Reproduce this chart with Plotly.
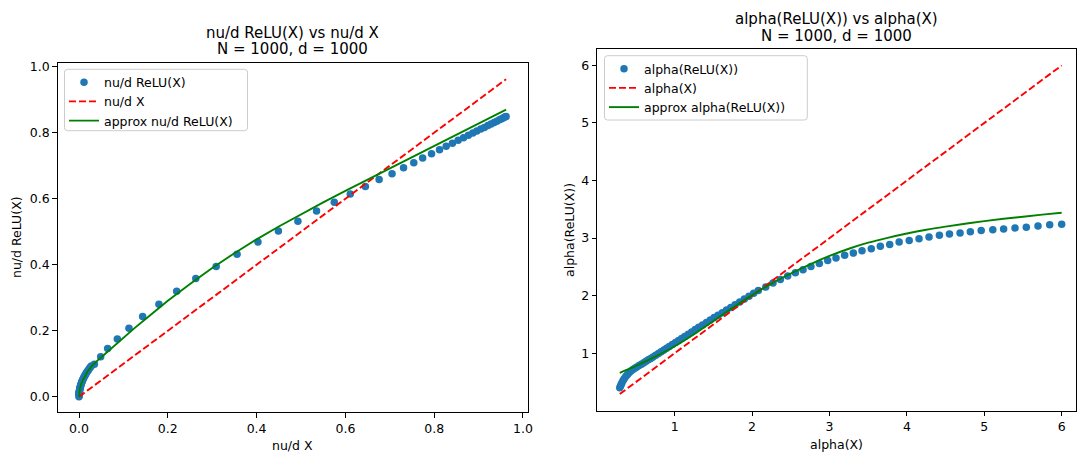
import plotly.graph_objects as go

# ---------------- left panel: nu/d ----------------
nud_x = [0.0, 0.0001, 0.0002, 0.0003, 0.0004, 0.0005, 0.0006, 0.0008, 0.001, 0.0012,
         0.0015, 0.0018, 0.0022, 0.0026, 0.003, 0.0035, 0.004, 0.0046, 0.0053, 0.006,
         0.0068, 0.0077, 0.0087, 0.0098, 0.011, 0.0123, 0.0137, 0.0152, 0.0168, 0.0186,
         0.0205, 0.0226, 0.025, 0.0276, 0.0345, 0.0488, 0.0645, 0.0863, 0.1125, 0.1433,
         0.180, 0.220, 0.263, 0.309, 0.356, 0.403, 0.449, 0.493, 0.535, 0.575,
         0.611, 0.645, 0.676, 0.705, 0.731, 0.754, 0.774, 0.794, 0.812, 0.827,
         0.841, 0.854, 0.866, 0.877, 0.887, 0.896, 0.905, 0.913, 0.921, 0.928,
         0.935, 0.941, 0.947, 0.952, 0.956, 0.960, 0.962]
nud_relu = [0.0, 0.003, 0.006, 0.010, 0.011, 0.0125, 0.0137, 0.0158, 0.0177, 0.0194,
            0.0217, 0.0238, 0.0263, 0.0286, 0.0307, 0.0331, 0.0354, 0.038, 0.0408, 0.0434,
            0.0462, 0.0491, 0.0522, 0.0554, 0.0587, 0.0621, 0.0655, 0.069, 0.0726, 0.0764,
            0.080, 0.0842, 0.0885, 0.093, 0.099, 0.121, 0.146, 0.175, 0.208, 0.243,
            0.280, 0.320, 0.358, 0.395, 0.432, 0.469, 0.502, 0.532, 0.563, 0.589,
            0.614, 0.637, 0.658, 0.676, 0.694, 0.709, 0.723, 0.736, 0.748, 0.759,
            0.768, 0.777, 0.785, 0.792, 0.799, 0.805, 0.811, 0.816, 0.822, 0.826,
            0.831, 0.835, 0.839, 0.842, 0.845, 0.848, 0.849]

approx_nud_x = [0.0, 0.0005, 0.002, 0.005, 0.01, 0.02, 0.03, 0.045, 0.06, 0.08,
                0.1, 0.125, 0.15, 0.175, 0.2, 0.25, 0.3, 0.35, 0.4, 0.45,
                0.5, 0.55, 0.6, 0.65, 0.7, 0.75, 0.8, 0.85, 0.9, 0.962]
approx_nud_y = [0.0, 0.012, 0.025, 0.039, 0.054, 0.078, 0.095, 0.114, 0.132, 0.156,
                0.180, 0.208, 0.236, 0.264, 0.291, 0.342, 0.390, 0.435, 0.477, 0.516,
                0.553, 0.589, 0.624, 0.658, 0.692, 0.726, 0.760, 0.794, 0.828, 0.870]

# ---------------- right panel: alpha ----------------
alpha_x = [0.29, 0.30, 0.31, 0.32, 0.335, 0.35, 0.37, 0.39, 0.41, 0.435,
           0.46, 0.485, 0.51, 0.54, 0.57, 0.60, 0.63, 0.66, 0.69, 0.72,
           0.755, 0.79, 0.825, 0.86, 0.895, 0.93, 0.97, 1.01, 1.05, 1.09,
           1.13, 1.175, 1.22, 1.265, 1.31, 1.36, 1.41, 1.46, 1.51, 1.56,
           1.615, 1.67, 1.725, 1.78, 1.84, 1.90, 1.96, 2.02, 2.08, 2.176,
           2.27, 2.365, 2.46, 2.559, 2.658, 2.76, 2.869, 2.977, 3.084, 3.196,
           3.308, 3.42, 3.54, 3.657, 3.778, 3.90, 4.03, 4.157, 4.286, 4.42,
           4.55, 4.687, 4.82, 4.96, 5.11, 5.25, 5.397, 5.543, 5.694, 5.845, 6.0]
alpha_relu = [0.40, 0.43, 0.46, 0.49, 0.53, 0.56, 0.60, 0.63, 0.66, 0.69,
              0.715, 0.74, 0.76, 0.785, 0.81, 0.835, 0.86, 0.885, 0.91, 0.935,
              0.965, 0.995, 1.025, 1.055, 1.085, 1.115, 1.15, 1.185, 1.22, 1.255,
              1.29, 1.33, 1.37, 1.41, 1.45, 1.49, 1.535, 1.575, 1.62, 1.66,
              1.705, 1.75, 1.795, 1.84, 1.89, 1.94, 1.99, 2.04, 2.09, 2.15,
              2.22, 2.28, 2.34, 2.40, 2.45, 2.505, 2.56, 2.609, 2.655, 2.70,
              2.74, 2.78, 2.817, 2.858, 2.89, 2.93, 2.96, 2.99, 3.02, 3.05,
              3.07, 3.089, 3.11, 3.13, 3.147, 3.16, 3.176, 3.19, 3.21, 3.234, 3.24]

approx_alpha_x = [0.29, 0.5, 0.75, 1.0, 1.25, 1.5, 1.75, 2.0, 2.25, 2.5,
                  2.75, 3.0, 3.25, 3.5, 3.75, 4.0, 4.25, 4.5, 4.75, 5.0,
                  5.25, 5.5, 5.75, 6.0]
approx_alpha_y = [0.66, 0.78, 0.94, 1.12, 1.33, 1.56, 1.79, 2.01, 2.21, 2.385,
                  2.545, 2.69, 2.815, 2.92, 3.005, 3.08, 3.145, 3.20, 3.25, 3.295,
                  3.335, 3.372, 3.407, 3.44]

left_ticks = [0.0, 0.2, 0.4, 0.6, 0.8, 1.0]
right_ticks = [1, 2, 3, 4, 5, 6]

W, H = 1078, 466
FONT = "DejaVu Sans"
BLUE, RED, GREEN = "#1f77b4", "#ff0000", "#008000"


def px(x):
    return x / W


def py(y):
    return 1 - y / H


def rounded_box(x0, y0, x1, y1, r=3):
    """Rounded rectangle path in paper coordinates from pixel corners."""
    X = lambda v: f"{px(v):.6f}"
    Y = lambda v: f"{py(v):.6f}"
    return (f"M {X(x0 + r)} {Y(y0)} L {X(x1 - r)} {Y(y0)} "
            f"Q {X(x1)} {Y(y0)} {X(x1)} {Y(y0 + r)} L {X(x1)} {Y(y1 - r)} "
            f"Q {X(x1)} {Y(y1)} {X(x1 - r)} {Y(y1)} L {X(x0 + r)} {Y(y1)} "
            f"Q {X(x0)} {Y(y1)} {X(x0)} {Y(y1 - r)} L {X(x0)} {Y(y0 + r)} "
            f"Q {X(x0)} {Y(y0)} {X(x0 + r)} {Y(y0)} Z")


fig = go.Figure()

# left panel traces
fig.add_trace(go.Scatter(x=nud_x, y=nud_relu, mode="markers", name="nu/d ReLU(X)",
                         marker=dict(color=BLUE, size=7.5, line=dict(width=0)),
                         xaxis="x", yaxis="y", legend="legend"))
fig.add_trace(go.Scatter(x=nud_x, y=nud_x, mode="lines", name="nu/d X",
                         line=dict(color=RED, width=1.9, dash="7px,3px"),
                         xaxis="x", yaxis="y", legend="legend"))
fig.add_trace(go.Scatter(x=approx_nud_x, y=approx_nud_y, mode="lines", name="approx nu/d ReLU(X)",
                         line=dict(color=GREEN, width=1.9),
                         xaxis="x", yaxis="y", legend="legend"))

# right panel traces
fig.add_trace(go.Scatter(x=alpha_x, y=alpha_relu, mode="markers", name="alpha(ReLU(X))",
                         marker=dict(color=BLUE, size=7.5, line=dict(width=0)),
                         xaxis="x2", yaxis="y2", legend="legend2"))
fig.add_trace(go.Scatter(x=alpha_x, y=alpha_x, mode="lines", name="alpha(X)",
                         line=dict(color=RED, width=1.9, dash="7px,3px"),
                         xaxis="x2", yaxis="y2", legend="legend2"))
fig.add_trace(go.Scatter(x=approx_alpha_x, y=approx_alpha_y, mode="lines", name="approx alpha(ReLU(X))",
                         line=dict(color=GREEN, width=1.9, shape="spline"),
                         xaxis="x2", yaxis="y2", legend="legend2"))

axis_common = dict(showline=True, mirror=True, linecolor="black", linewidth=1.1,
                   ticks="outside", ticklen=4.5, tickwidth=1.1, tickcolor="black",
                   showgrid=False, zeroline=False, automargin=False,
                   tickfont=dict(family=FONT, size=12.5, color="black"))

legend_common = dict(xanchor="left", yanchor="top", bgcolor="rgba(0,0,0,0)",
                     borderwidth=0, tracegroupgap=0,
                     font=dict(family=FONT, size=12.5, color="black"))

fig.update_layout(
    width=W, height=H,
    margin=dict(l=0, r=0, t=0, b=0, pad=0),
    paper_bgcolor="white", plot_bgcolor="white",
    font=dict(family=FONT, size=12.5, color="black"),
    xaxis=dict(domain=[px(57.7), px(527.7)], range=[-0.048, 1.0106], anchor="y",
               tickvals=left_ticks, ticktext=[f"{v:.1f}" for v in left_ticks], **axis_common),
    yaxis=dict(domain=[py(412), py(62.7)], range=[-0.046, 1.012], anchor="x",
               tickvals=left_ticks, ticktext=[f"{v:.1f}" for v in left_ticks], **axis_common),
    xaxis2=dict(domain=[px(597.3), px(1076)], range=[0.0, 6.185], anchor="y2",
                tickvals=right_ticks, ticktext=[str(v) for v in right_ticks], **axis_common),
    yaxis2=dict(domain=[py(410.5), py(49)], range=[0.0045, 6.2855], anchor="x2",
                tickvals=right_ticks, ticktext=[str(v) for v in right_ticks], **axis_common),
    legend=dict(x=px(64), y=py(67.5), **legend_common),
    legend2=dict(x=px(604), y=py(54), **legend_common),
    showlegend=True,
)

# legend frames (drawn above the data, beneath the legend entries)
fig.add_shape(type="path", path=rounded_box(64.5, 69.3, 247.5, 130.7), xref="paper", yref="paper",
              line=dict(color="#cccccc", width=1), fillcolor="rgba(255,255,255,0.8)", layer="above")
fig.add_shape(type="path", path=rounded_box(604.5, 55.7, 807.3, 120.0), xref="paper", yref="paper",
              line=dict(color="#cccccc", width=1), fillcolor="rgba(255,255,255,0.8)", layer="above")

annotations = [
    dict(text="nu/d ReLU(X) vs nu/d X", x=px(292.7), y=py(32.5), font=dict(family=FONT, size=15)),
    dict(text="N = 1000, d = 1000", x=px(292.7), y=py(49), font=dict(family=FONT, size=15)),
    dict(text="alpha(ReLU(X)) vs alpha(X)", x=px(836.6), y=py(19), font=dict(family=FONT, size=15)),
    dict(text="N = 1000, d = 1000", x=px(836.6), y=py(35.5), font=dict(family=FONT, size=15)),
    dict(text="nu/d X", x=px(292.7), y=py(445), font=dict(family=FONT, size=12.5)),
    dict(text="alpha(X)", x=px(836.6), y=py(444), font=dict(family=FONT, size=12.5)),
    dict(text="nu/d ReLU(X)", x=px(17), y=py(237), textangle=-90, font=dict(family=FONT, size=12.5)),
    dict(text="alpha(ReLU(X))", x=px(569), y=py(230), textangle=-90, font=dict(family=FONT, size=12.5)),
]
for a in annotations:
    a.update(xref="paper", yref="paper", showarrow=False, xanchor="center", yanchor="middle")
fig.update_layout(annotations=annotations)

fig.write_html("out.html")
